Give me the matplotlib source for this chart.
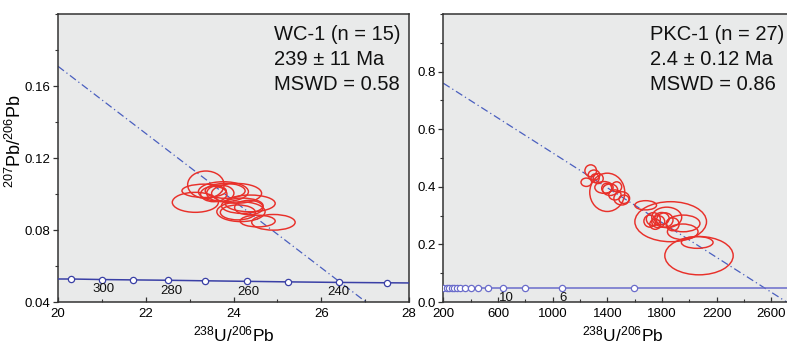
import matplotlib
matplotlib.use("Agg")
import matplotlib.pyplot as plt
from matplotlib.patches import Ellipse
from matplotlib.ticker import MultipleLocator

plt.rcParams['font.family'] = ['Liberation Sans', 'DejaVu Sans']
plt.rcParams['mathtext.fontset'] = 'custom'
plt.rcParams['mathtext.rm'] = 'Liberation Sans'
plt.rcParams['mathtext.it'] = 'Liberation Sans:italic'
plt.rcParams['mathtext.bf'] = 'Liberation Sans:bold'

# ---------------- Data: WC-1 (left panel) ----------------
wc_x = [23.37, 23.13, 23.33, 23.77, 23.81, 24.07, 23.70, 24.38, 24.17, 24.10, 24.55, 24.91, 24.20, 24.35, 23.55]
wc_y = [0.1052, 0.0954, 0.1018, 0.1013, 0.1018, 0.1004, 0.1005, 0.0948, 0.0902, 0.0898, 0.0850, 0.0843, 0.0935, 0.0925, 0.1000]
wc_w = [0.83, 1.05, 1.01, 1.14, 0.91, 1.14, 0.62, 1.14, 1.10, 0.80, 0.80, 0.99, 0.95, 0.65, 0.60]
wc_h = [0.0152, 0.0111, 0.0074, 0.0111, 0.0083, 0.0110, 0.0090, 0.0093, 0.0110, 0.0083, 0.0065, 0.0087, 0.0085, 0.0080, 0.0085]

wc_conc_line_x = [20.0, 20.3, 21.0, 21.7, 22.5, 23.35, 24.3, 25.25, 26.4, 27.5, 28.0]
wc_conc_line_y = [0.0528, 0.0528, 0.0525, 0.0523, 0.0521, 0.0518, 0.0515, 0.0512, 0.0509, 0.0507, 0.0506]
wc_mark_x = [20.3, 21.0, 21.7, 22.5, 23.35, 24.3, 25.25, 26.4, 27.5]
wc_mark_y = [0.0528, 0.0525, 0.0523, 0.0521, 0.0518, 0.0515, 0.0512, 0.0509, 0.0507]
wc_age_labels = ['300', '280', '260', '240']
wc_age_x = [21.04, 22.58, 24.34, 26.40]
wc_age_y = [0.0470, 0.0463, 0.0456, 0.0456]
wc_disc_x = [20.0, 27.02]
wc_disc_y = [0.171, 0.040]
wc_text = ['WC-1 (n = 15)', '239 ± 11 Ma', 'MSWD = 0.58']

# ---------------- Data: PKC-1 (right panel) ----------------
pk_x = [1399, 1278, 1302, 1246, 1333, 1375, 1395, 1468, 1505, 1521, 1420, 1310, 1455,
        1680, 1863, 1834, 1955, 1951, 1736, 1772, 1711, 1797, 1877, 2057, 2070, 1750, 1820]
pk_y = [0.381, 0.456, 0.441, 0.416, 0.429, 0.398, 0.395, 0.400, 0.360, 0.357, 0.390, 0.430, 0.372,
        0.336, 0.279, 0.294, 0.273, 0.244, 0.288, 0.279, 0.281, 0.290, 0.270, 0.207, 0.161, 0.270, 0.285]
pk_w = [256, 85, 85, 78, 73, 134, 73, 73, 115, 73, 110, 60, 90,
        159, 524, 219, 244, 224, 102, 95, 88, 110, 95, 232, 500, 80, 120]
pk_h = [0.133, 0.041, 0.035, 0.029, 0.035, 0.041, 0.035, 0.035, 0.046, 0.029, 0.040, 0.030, 0.035,
        0.032, 0.139, 0.071, 0.058, 0.054, 0.045, 0.042, 0.042, 0.042, 0.045, 0.041, 0.133, 0.035, 0.050]

pk_conc_line_x = [200, 2800]
pk_conc_line_y = [0.047, 0.047]
pk_mark_x = [200, 224, 244, 261, 278, 297, 322, 358, 400, 456, 529, 636, 797, 1065, 1597]
pk_mark_y = [0.047] * 15
pk_age_labels = ['10', '6']
pk_age_x = [659, 1073]
pk_age_y = [0.013, 0.013]
pk_disc_x = [200, 2711]
pk_disc_y = [0.76, 0.0]
pk_text = ['PKC-1 (n = 27)', '2.4 ± 0.12 Ma', 'MSWD = 0.86']

RED = '#e8302a'
DISC = '#4a5fbf'
BG = '#e9eaea'

fig = plt.figure(figsize=(7.87, 3.44), dpi=100)
axL = fig.add_axes([0.0737, 0.122, 0.446, 0.837])
axR = fig.add_axes([0.5633, 0.122, 0.4517, 0.837])

def style(ax):
    ax.set_facecolor(BG)
    for s in ax.spines.values():
        s.set_color('#333333')
        s.set_linewidth(1.1)
    ax.tick_params(axis='x', which='both', direction='in', labelsize=9.5, color='#333333', pad=4)
    ax.tick_params(axis='y', which='both', direction='out', labelsize=9.5, color='#333333', pad=2)
    ax.tick_params(which='major', length=3.5, width=0.9)
    ax.tick_params(which='minor', length=2.5, width=0.8)

def draw(ax, ex, ey, ew, eh, clx, cly, mx, my, alab, ax_, ay_, dx, dy, conc_color):
    ax.plot(dx, dy, color=DISC, lw=0.9, ls=(0, (6, 2.5, 1, 2.5)), zorder=2)
    for x, y, w, h in zip(ex, ey, ew, eh):
        ax.add_patch(Ellipse((x, y), w, h, fill=False, edgecolor=RED, lw=1.05, zorder=3))
    ax.plot(clx, cly, color=conc_color, lw=1.1, zorder=4)
    ax.plot(mx, my, ls='none', marker='o', ms=4.5, mfc='white', mec=conc_color, mew=0.9, zorder=5)
    for lab, x, y in zip(alab, ax_, ay_):
        ax.text(x, y, lab, ha='center', va='center', fontsize=9.5, color='#111111', zorder=6)

style(axL)
style(axR)
yb = [0.9097, 0.8229, 0.736]

draw(axL, wc_x, wc_y, wc_w, wc_h, wc_conc_line_x, wc_conc_line_y, wc_mark_x, wc_mark_y,
     wc_age_labels, wc_age_x, wc_age_y, wc_disc_x, wc_disc_y, '#3a40a6')
for t, y in zip(wc_text, yb):
    axL.text(0.6154, y, t, transform=axL.transAxes, fontsize=14.5, va='baseline', ha='left', color='#111111')

draw(axR, pk_x, pk_y, pk_w, pk_h, pk_conc_line_x, pk_conc_line_y, pk_mark_x, pk_mark_y,
     pk_age_labels, pk_age_x, pk_age_y, pk_disc_x, pk_disc_y, '#6a6ccb')
for t, y in zip(pk_text, yb):
    axR.text(0.5814, y, t, transform=axR.transAxes, fontsize=14.5, va='baseline', ha='left', color='#111111')

axL.set_xlim(20, 28)
axL.set_ylim(0.04, 0.20)
axL.xaxis.set_major_locator(MultipleLocator(2))
axL.xaxis.set_minor_locator(MultipleLocator(1))
axL.set_yticks([0.04, 0.08, 0.12, 0.16])
axL.set_yticklabels(['0.04', '0.08', '0.12', '0.16'])
axL.yaxis.set_minor_locator(MultipleLocator(0.02))

axR.set_xlim(200, 2800)
axR.set_ylim(0.0, 1.0)
axR.set_xticks([200, 600, 1000, 1400, 1800, 2200, 2600])
axR.xaxis.set_minor_locator(MultipleLocator(200))
axR.set_yticks([0.0, 0.2, 0.4, 0.6, 0.8])
axR.set_yticklabels(['0.0', '0.2', '0.4', '0.6', '0.8'])
axR.yaxis.set_minor_locator(MultipleLocator(0.1))

for ax in (axL, axR):
    ax.set_xlabel(r'$\mathregular{^{238}U/^{206}Pb}$', fontsize=12.5)
    ax.xaxis.set_label_coords(0.5, -0.078)
axR.xaxis.set_label_coords((623 - 443.3) / 355.5, -0.078)

axL.set_ylabel(r'$\mathregular{^{207}Pb/^{206}Pb}$', fontsize=13)
axL.yaxis.set_label_coords(-0.094, 0.56)

fig.savefig('out.png', dpi=100)
